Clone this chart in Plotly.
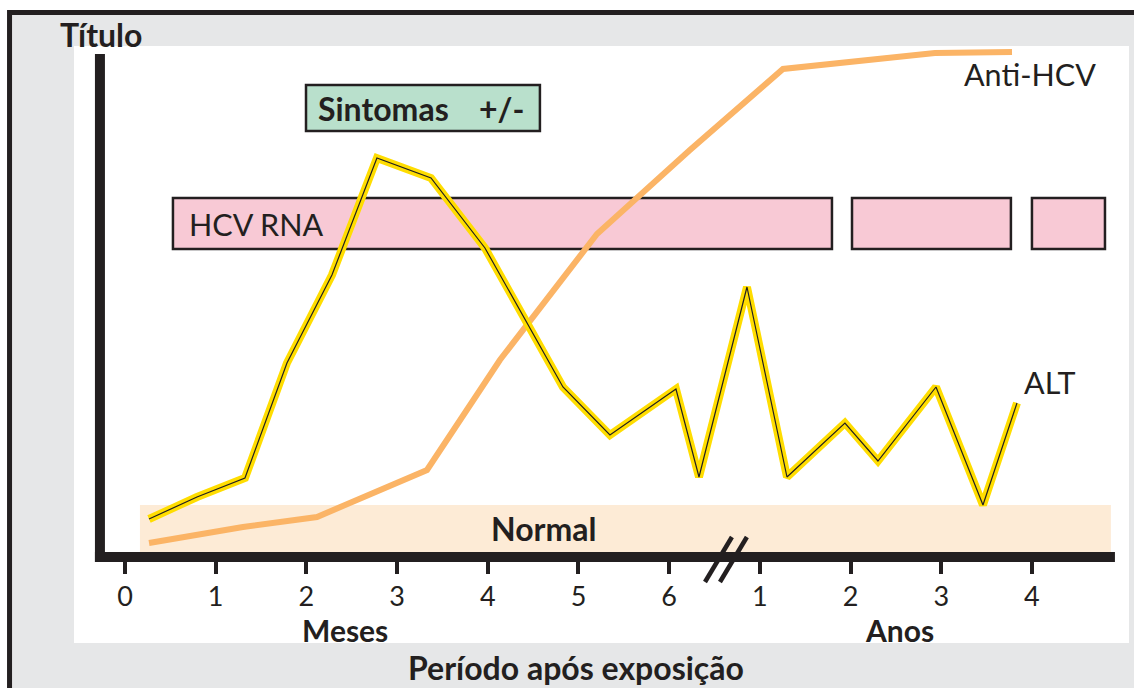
import plotly.graph_objects as go

# ---------------- data ----------------
tick_positions = [0, 1, 2, 3, 4, 5, 6, 7, 8, 9, 10]
tick_labels = ["0", "1", "2", "3", "4", "5", "6", "1", "2", "3", "4"]

alt_x = [0.265, 0.794, 1.323, 1.786, 2.282, 2.778, 3.374, 3.969, 4.829, 5.347,
         6.075, 6.329, 6.858, 7.299, 7.938, 8.302, 8.942, 9.460, 9.835]
alt_y = [7.6, 12.0, 15.8, 38.8, 56.4, 79.8, 75.8, 61.8, 34.0, 24.4,
         33.6, 16.0, 54.0, 16.0, 26.8, 19.2, 34.0, 10.4, 30.8]

anti_x = [0.265, 1.301, 2.117, 3.330, 4.134, 5.204, 6.229, 7.255, 8.93, 9.78]
anti_y = [2.8, 6.0, 8.0, 17.4, 39.4, 64.6, 81.4, 97.6, 100.8, 101.0]

rna_start = [0.529, 8.016, 10.0]
rna_end = [7.795, 9.768, 10.805]
rna_low, rna_high = 61.6, 71.8

sint_start, sint_end = 1.996, 4.575
sint_low, sint_high = 85.2, 94.4

normal_start, normal_end = 0.165, 10.87
normal_high = 10.4

# ---------------- styles ----------------
DARK = "#231f20"
FONT = "Lato"
BOLD = 32
REG = 30.5

fig = go.Figure()

fig.add_trace(go.Scatter(x=anti_x, y=anti_y, mode="lines",
                         line=dict(color="#fbb466", width=6), hoverinfo="skip"))
fig.add_trace(go.Scatter(x=alt_x, y=alt_y, mode="lines",
                         line=dict(color="#ffdd00", width=8), hoverinfo="skip"))
fig.add_trace(go.Scatter(x=alt_x, y=alt_y, mode="lines",
                         line=dict(color=DARK, width=1.2), hoverinfo="skip"))

shapes = []
# outer gray panel with dark top/left border
shapes.append(dict(type="rect", xref="paper", yref="paper",
                   x0=-0.0611, x1=1.03, y0=-0.25, y1=1.0561,
                   fillcolor="#e6e7e8", line=dict(color=DARK, width=5), layer="below"))
# white panel (= plotting area)
shapes.append(dict(type="rect", xref="paper", yref="paper",
                   x0=0, x1=1, y0=0, y1=1,
                   fillcolor="white", line=dict(width=0), layer="below"))
# normal band
shapes.append(dict(type="rect", xref="x", yref="y",
                   x0=normal_start, x1=normal_end, y0=0, y1=normal_high,
                   fillcolor="#fdebd6", line=dict(width=0), layer="below"))
# HCV RNA bars
for s, e in zip(rna_start, rna_end):
    shapes.append(dict(type="rect", xref="x", yref="y",
                       x0=s, x1=e, y0=rna_low, y1=rna_high,
                       fillcolor="#f8c9d5", line=dict(color=DARK, width=2.5), layer="below"))
# Sintomas box
shapes.append(dict(type="rect", xref="x", yref="y",
                   x0=sint_start, x1=sint_end, y0=sint_low, y1=sint_high,
                   fillcolor="#b9e0cc", line=dict(color=DARK, width=2.5), layer="below"))
# axis lines
shapes.append(dict(type="line", xref="x", yref="y",
                   x0=-0.331, x1=10.915, y0=0, y1=0,
                   line=dict(color=DARK, width=10), layer="above"))
shapes.append(dict(type="line", xref="x", yref="y",
                   x0=-0.276, x1=-0.276, y0=-1, y1=100.6,
                   line=dict(color=DARK, width=10), layer="above"))
# axis break marks
for dx in (0.0, 0.165):
    shapes.append(dict(type="line", xref="x", yref="y",
                       x0=6.395 + dx, x1=6.692 + dx, y0=-5, y1=4,
                       line=dict(color=DARK, width=4.5), layer="above"))

fig.update_layout(shapes=shapes)

annotations = [
    dict(text="<b>Título</b>", xref="paper", yref="paper", x=0.0256, y=1.0201,
         font=dict(size=BOLD, color=DARK)),
    dict(text="<b>Sintomas</b>", xref="x", yref="y", x=sint_start + 0.849,
         y=(sint_low + sint_high) / 2, font=dict(size=BOLD, color=DARK)),
    dict(text="<b>+/-</b>", xref="x", yref="y", x=sint_start + 2.15,
         y=(sint_low + sint_high) / 2, font=dict(size=BOLD, color=DARK)),
    dict(text="HCV RNA", xref="x", yref="y", x=1.444, y=(rna_low + rna_high) / 2,
         font=dict(size=REG, color=DARK)),
    dict(text="<b>Normal</b>", xref="x", yref="y", x=4.61, y=5.8,
         font=dict(size=BOLD, color=DARK)),
    dict(text="Anti-HCV", xref="x", yref="y", x=9.978, y=96.6,
         font=dict(size=REG, color=DARK)),
    dict(text="ALT", xref="x", yref="y", x=10.19, y=35.0,
         font=dict(size=REG, color=DARK)),
    dict(text="<b>Meses</b>", xref="x", yref="y", x=2.43, y=-14.6,
         font=dict(size=30, color=DARK)),
    dict(text="<b>Anos</b>", xref="x", yref="y", x=8.54, y=-14.6,
         font=dict(size=30, color=DARK)),
    dict(text="<b>Período após exposição</b>", xref="x", yref="paper", x=4.97,
         y=(643 - 667) / 597, font=dict(size=BOLD, color=DARK)),
]
for a in annotations:
    a["showarrow"] = False
    a["xanchor"] = "center"
    a["yanchor"] = "middle"
fig.update_layout(annotations=annotations)

fig.update_layout(
    width=1134, height=688,
    margin=dict(l=74, r=5, t=46, b=45),
    paper_bgcolor="white",
    plot_bgcolor="rgba(0,0,0,0)",
    showlegend=False,
    font=dict(family=FONT, color=DARK),
    xaxis=dict(range=[-0.562, 11.07], tickvals=tick_positions, ticktext=tick_labels,
               anchor="free", position=(643 - 557) / 597,
               ticks="outside", ticklen=16, tickwidth=4, tickcolor=DARK,
               showline=False, showgrid=False, zeroline=False,
               tickfont=dict(size=27, color=DARK, family=FONT), fixedrange=True),
    yaxis=dict(range=[-17.2, 102.2], visible=False, fixedrange=True),
)

fig.write_html("out.html", config={"displayModeBar": False},
               post_script="document.body.style.margin='0';document.body.style.overflow='hidden';")
